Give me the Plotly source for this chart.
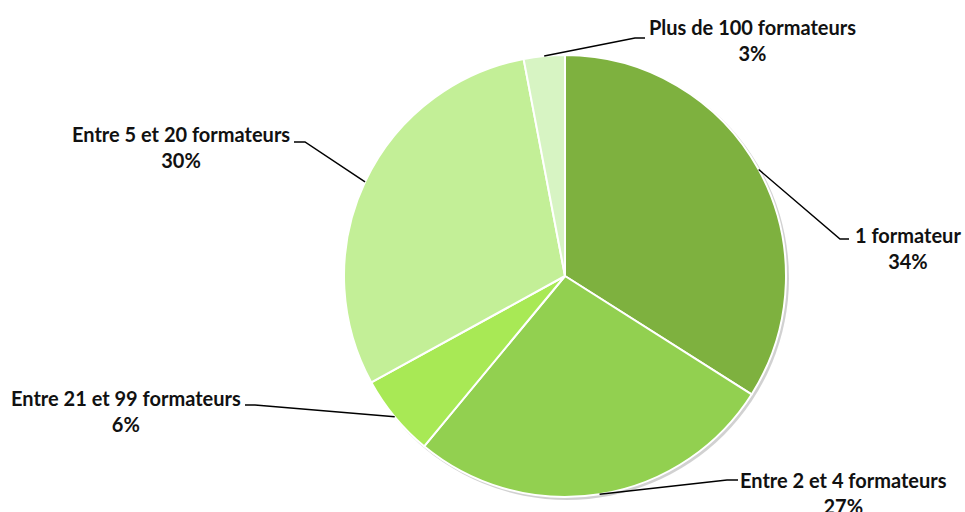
import math
import plotly.graph_objects as go

# Données
categories = ["1 formateur", "Entre 2 et 4 formateurs", "Entre 21 et 99 formateurs",
              "Entre 5 et 20 formateurs", "Plus de 100 formateurs"]
valeurs = [34, 27, 6, 30, 3]
couleurs = ["#7EB13F", "#92D050", "#A8E955", "#C3EF97", "#D7F4C3"]

W, H = 965, 512
# géométrie du camembert (pixels)
cx, cy, r = 565, 276, 221

# position des étiquettes (pixels) : coude de la ligne, fin du trait, centre du texte
etiquettes = {
    "1 formateur": dict(coude=(840, 239), fin=(849, 239), texte=(908, 248)),
    "Entre 2 et 4 formateurs": dict(coude=(727, 480), fin=(738, 480), texte=(843, 493)),
    "Entre 21 et 99 formateurs": dict(coude=(255, 405), fin=(245, 405), texte=(126, 411)),
    "Entre 5 et 20 formateurs": dict(coude=(305, 142), fin=(294, 142), texte=(181, 147)),
    "Plus de 100 formateurs": dict(coude=(635, 38), fin=(645, 38), texte=(752, 40)),
}


def px(x):
    return x / W


def py(y):
    return 1 - y / H


fig = go.Figure()
fig.add_trace(go.Pie(
    labels=categories,
    values=valeurs,
    sort=False,
    direction="clockwise",
    rotation=0,
    marker=dict(colors=couleurs, line=dict(color="white", width=2)),
    textinfo="none",
    hoverinfo="label+percent",
    domain=dict(x=[px(cx - r), px(cx + r)], y=[py(cy + r), py(cy - r)]),
    showlegend=False,
))

# ombre légère
fig.add_shape(type="circle", xref="paper", yref="paper", layer="below",
              x0=px(cx - r + 1), x1=px(cx + r + 3), y0=py(cy + r + 3), y1=py(cy - r + 1),
              fillcolor="rgba(0,0,0,0.18)", line=dict(width=0))

total = sum(valeurs)
cumul = 0
for cat, v in zip(categories, valeurs):
    milieu = (cumul + v / 2) / total * 2 * math.pi
    cumul += v
    ax = cx + r * math.sin(milieu)
    ay = cy - r * math.cos(milieu)
    e = etiquettes[cat]
    chemin = "M {} {} L {} {} L {} {}".format(
        px(ax), py(ay), px(e["coude"][0]), py(e["coude"][1]), px(e["fin"][0]), py(e["fin"][1]))
    fig.add_shape(type="path", xref="paper", yref="paper", path=chemin,
                  line=dict(color="black", width=1.5))
    fig.add_annotation(x=px(e["texte"][0]), y=py(e["texte"][1]), xref="paper", yref="paper",
                       xanchor="center", yanchor="middle",
                       text="{}<br>{}%".format(cat, round(v / total * 100)),
                       showarrow=False, align="center",
                       font=dict(family="Lato", size=20, color="#111111", weight="bold"))

fig.update_layout(
    width=W, height=H,
    margin=dict(l=0, r=0, t=0, b=0),
    paper_bgcolor="white",
    plot_bgcolor="white",
)

# pas de marge autour du graphique dans la page
fig.write_html("out.html", config={"displayModeBar": False},
               post_script="document.body.style.margin='0';document.body.style.overflow='hidden';")
